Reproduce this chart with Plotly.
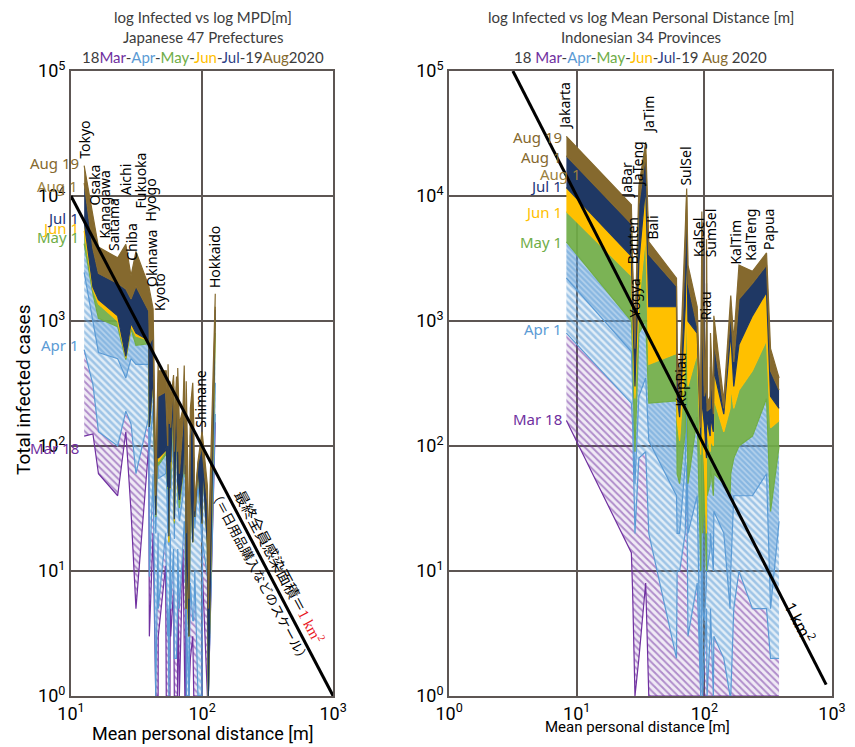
import numpy as np
import plotly.graph_objects as go

# ---------------- DATA ----------------
dates = ["Mar 18", "Apr 1", "Apr 15", "May 1", "Jun 1", "Jul 1", "Aug 1", "Aug 19"]

# Japan: 47 prefectures sorted by mean personal distance [m]
jp_names = ["Tokyo", "Osaka", "Kanagawa", "Saitama", "Aichi", "Chiba", "Fukuoka", "Hyogo", "Okinawa", "Kyoto",
            "Kagawa", "Ibaraki", "Shizuoka", "Nara", "Shiga", "Saga", "Hiroshima", "Nagasaki", "Miyagi", "Mie",
            "Gunma", "Tochigi", "Ishikawa", "Okayama", "Toyama", "Ehime", "Kumamoto", "Yamaguchi", "Wakayama", "Gifu",
            "Fukui", "Yamanashi", "Oita", "Niigata", "Tokushima", "Kagoshima", "Tottori", "Nagano", "Miyazaki",
            "Fukushima", "Aomori", "Yamagata", "Shimane", "Kochi", "Akita", "Iwate", "Hokkaido"]
jp_mpd = [12.6, 14.7, 16.2, 22.7, 26.2, 28.7, 31.3, 39.2, 39.6, 42.3,
          44.3, 46.2, 46.3, 52.7, 53.3, 54.7, 55.0, 55.8, 56.2, 56.9,
          57.2, 57.6, 60.6, 61.4, 63.8, 65.0, 65.2, 67.1, 71.5, 73.1,
          73.9, 74.2, 74.7, 75.2, 75.5, 75.7, 79.4, 81.4, 84.9,
          86.4, 88.0, 93.0, 99.8, 100.9, 109.8, 111.6, 126.1]
jp_mar18 = [120, 125, 60, 40, 130, 30, 5, 100, 3, 20,
            1, 1, 3, 11, 1, 1, 1, 1, 1, 1,
            6, 3, 7, 1, 1, 1, 7, 1, 15, 2,
            1, 2, 1, 20, 1, 1, 1, 2, 3,
            1, 1, 1, 1, 9, 1, 1, 155]
jp_apr01 = [590, 310, 130, 100, 190, 150, 60, 170, 9, 60,
            1, 20, 5, 20, 10, 3, 5, 1, 3, 10,
            20, 5, 15, 2, 2, 5, 15, 5, 20, 25,
            20, 8, 28, 30, 2, 1, 1, 8, 4,
            4, 10, 1, 1, 17, 9, 1, 180]
jp_apr15 = [2450, 950, 560, 500, 350, 500, 450, 450, 90, 200,
            20, 120, 55, 60, 70, 20, 140, 16, 60, 30,
            120, 40, 170, 18, 180, 40, 35, 25, 40, 140,
            90, 40, 50, 60, 3, 4, 1, 40, 17,
            50, 22, 50, 17, 60, 16, 1, 320]
jp_may01 = [4150, 1650, 1050, 900, 490, 860, 640, 660, 142, 330,
            27, 160, 70, 85, 90, 45, 160, 17, 88, 45,
            146, 54, 270, 24, 220, 48, 47, 32, 60, 150,
            122, 56, 60, 80, 5, 10, 3, 71, 17,
            75, 27, 69, 24, 74, 16, 1, 800]
jp_jun01 = [5250, 1780, 1370, 1000, 510, 910, 760, 700, 142, 360,
            28, 170, 75, 91, 100, 47, 168, 17, 88, 45,
            149, 65, 295, 25, 228, 82, 48, 37, 63, 151,
            122, 60, 60, 82, 5, 11, 3, 76, 17,
            81, 27, 69, 24, 74, 16, 1, 1060]
jp_jul01 = [6230, 1870, 1480, 1100, 520, 960, 800, 700, 142, 370,
            28, 180, 80, 92, 100, 47, 168, 19, 90, 46,
            150, 74, 300, 26, 228, 82, 50, 37, 63, 151,
            122, 60, 60, 84, 5, 30, 3, 77, 17,
            81, 27, 69, 24, 74, 16, 1, 1230]
jp_aug01 = [12700, 3800, 2400, 2000, 1800, 1500, 1900, 1200, 650, 750,
            40, 320, 250, 270, 200, 100, 300, 150, 150, 200,
            220, 140, 330, 90, 300, 90, 250, 60, 150, 300,
            180, 90, 70, 110, 20, 200, 6, 120, 180,
            90, 30, 72, 100, 85, 35, 5, 1300]
jp_aug19 = [17500, 7300, 3900, 3200, 4100, 2300, 3600, 1900, 1800, 1250,
            60, 450, 400, 400, 400, 200, 450, 200, 200, 330,
            300, 230, 370, 140, 360, 110, 420, 150, 200, 440,
            200, 150, 80, 130, 70, 330, 20, 200, 320,
            150, 35, 75, 130, 120, 48, 15, 1650]

# Indonesia: 34 provinces sorted by mean personal distance [m]
id_names = ["Jakarta", "JaBar", "Banten", "Yogya", "JaTeng", "JaTim", "Bali", "NTB", "KepRiau", "Lampung",
            "SumUt", "SulSel", "SulUt", "SumBar", "NTT", "KalSel", "Gorontalo", "Bengkulu", "Aceh", "SumSel",
            "Babel", "SulBar", "Riau", "Jambi", "SulTra", "SulTeng", "MalUt", "Maluku", "KalBar", "KalTim",
            "KalTeng", "Papua", "PapBar", "KalUt"]
id_mpd = [8.3, 26.8, 27.4, 28.6, 30.7, 34.7, 36.7, 60.5, 61.2, 64.0,
          70.8, 72.7, 74.4, 87.9, 93.7, 95.6, 96.9, 100.0, 103.9, 104.0,
          105.0, 111.0, 111.7, 117.6, 118.7, 142.0, 159.0, 161.0, 170.0, 186.8,
          238.0, 307.0, 330.0, 385.0]
id_mar18 = [160, 14, 7, 1, 2, 8, 1, 1, 1, 1,
            1, 1, 1, 1, 1, 1, 1, 1, 1, 1,
            1, 1, 1, 1, 1, 1, 1, 1, 1, 1,
            1, 1, 1, 1]
id_apr01 = [800, 220, 150, 20, 80, 90, 20, 2, 10, 10,
            20, 70, 3, 8, 1, 5, 1, 2, 5, 5,
            1, 3, 5, 1, 3, 2, 1, 1, 5, 10,
            5, 5, 2, 2]
id_apr15 = [2200, 570, 300, 50, 250, 350, 110, 40, 20, 20,
            70, 250, 20, 40, 1, 30, 5, 4, 8, 40,
            10, 15, 20, 10, 30, 20, 5, 10, 40, 40,
            40, 60, 5, 25]
id_may01 = [4300, 1000, 550, 90, 800, 1000, 220, 230, 60, 50,
            130, 550, 50, 170, 10, 130, 20, 40, 10, 100,
            40, 50, 70, 40, 60, 50, 40, 60, 80, 100,
            120, 240, 30, 100]
id_jun01 = [7500, 2300, 900, 240, 1400, 4900, 450, 550, 160, 110,
            500, 1600, 300, 550, 85, 800, 120, 70, 20, 700,
            130, 90, 110, 100, 240, 130, 200, 300, 200, 280,
            400, 700, 140, 160]
id_jul01 = [11700, 3300, 1400, 300, 3000, 12000, 1300, 1300, 250, 170,
            1300, 5200, 1000, 800, 110, 3100, 200, 150, 80, 2000,
            160, 120, 170, 130, 400, 180, 700, 800, 300, 650,
            1100, 1700, 250, 200]
id_aug01 = [21000, 6000, 2300, 600, 8500, 21500, 3400, 1900, 400, 250,
            3500, 10000, 2000, 900, 140, 6000, 900, 250, 300, 3400,
            190, 200, 430, 180, 700, 200, 1100, 1200, 470, 1500,
            2000, 2800, 400, 280]
id_aug19 = [30000, 8500, 2900, 800, 12000, 27000, 4300, 2200, 550, 350,
            5300, 11500, 2800, 1300, 180, 7500, 1200, 300, 900, 4500,
            220, 250, 800, 220, 1100, 230, 1400, 1600, 700, 2800,
            2500, 3500, 600, 350]

AREA_M2 = 1.0e6  # 1 km^2 final total infection area

# ---------------- STYLE ----------------
MAR, APR, MAY, JUN, JUL, AUG = "#7030A0", "#5B9BD5", "#70AD47", "#FFC000", "#1F3864", "#85692E"
line_colors = [MAR, APR, APR, MAY, JUN, JUL, AUG, AUG]
fill_colors = [None, "rgba(112,48,160,0.10)", "rgba(91,155,213,0.18)", "rgba(91,155,213,0.45)",
               "rgba(112,173,71,0.92)", JUN, JUL, AUG]
fill_patterns = [None,
                 dict(shape="\\", fgcolor=MAR, bgcolor="rgba(112,48,160,0.10)", size=5, solidity=0.4),
                 dict(shape="\\", fgcolor=APR, bgcolor="rgba(91,155,213,0.18)", size=5, solidity=0.5),
                 dict(shape="\\", fgcolor=APR, bgcolor="rgba(91,155,213,0.45)", size=4, solidity=0.6),
                 None, None, None, None]
GRID = "#5d5653"
FONT = "Noto Sans"

jp_series = [jp_mar18, jp_apr01, jp_apr15, jp_may01, jp_jun01, jp_jul01, jp_aug01, jp_aug19]
id_series = [id_mar18, id_apr01, id_apr15, id_may01, id_jun01, id_jul01, id_aug01, id_aug19]

fig = go.Figure()


def add_panel(mpd, series, xa, ya):
    for d, vals in enumerate(series):
        kw = {}
        if d > 0:
            kw["fill"] = "tonexty"
            kw["fillcolor"] = fill_colors[d]
            if fill_patterns[d] is not None:
                kw["fillpattern"] = fill_patterns[d]
        fig.add_trace(go.Scatter(
            x=mpd, y=vals, mode="lines", xaxis=xa, yaxis=ya,
            line=dict(color=line_colors[d], width=1.2),
            hoverinfo="skip", showlegend=False, **kw))


add_panel(jp_mpd, jp_series, "x", "y")
add_panel(id_mpd, id_series, "x2", "y2")

# 1 km^2 reference lines
ref_left_x = np.array([10.0, 1000.0])
ref_right_x = np.array([np.sqrt(AREA_M2 / 1e5), 900.0])
fig.add_trace(go.Scatter(x=ref_left_x, y=AREA_M2 / ref_left_x ** 2, mode="lines",
                         line=dict(color="black", width=3), xaxis="x", yaxis="y",
                         hoverinfo="skip", showlegend=False))
fig.add_trace(go.Scatter(x=ref_right_x, y=AREA_M2 / ref_right_x ** 2, mode="lines",
                         line=dict(color="black", width=3), xaxis="x2", yaxis="y2",
                         hoverinfo="skip", showlegend=False))

annotations = []

# region labels (name, dx px, dy px)
jp_labels = [("Tokyo", 0, 5), ("Osaka", 2, 6), ("Kanagawa", 6, 7), ("Saitama", -4, 5), ("Aichi", 0, 47),
             ("Chiba", 1, 13), ("Fukuoka", 4, 41), ("Hyogo", 2, 63), ("Okinawa", 2, 0), ("Kyoto", 7, -4),
             ("Hokkaido", 0, 4), ("Shimane", -1, 2)]
id_labels = [("Jakarta", -2, 5), ("JaBar", -5, 4), ("Banten", 0, -3), ("Yogya", 0, 14), ("JaTeng", -2, -3),
             ("JaTim", 2, 6), ("Bali", 4, 0), ("KepRiau", 3, -55), ("SulSel", -1, 1), ("KalSel", -4, -47),
             ("SumSel", 4, -20), ("Riau", -5, 11), ("KalTim", -3, -1), ("KalTeng", -2, 9), ("Papua", 2, 1)]


def add_region_labels(labels, names, mpd, top, xr, yr):
    for name, dx, dy in labels:
        i = names.index(name)
        annotations.append(dict(
            x=np.log10(mpd[i]), y=np.log10(top[i]), xref=xr, yref=yr, text=name, showarrow=False,
            textangle=-90, xanchor="center", yanchor="bottom", xshift=dx, yshift=dy,
            font=dict(family=FONT, size=14, color="black")))


add_region_labels(jp_labels, jp_names, jp_mpd, jp_aug19, "x", "y")
add_region_labels(id_labels, id_names, id_mpd, id_aug19, "x2", "y2")

# date labels (text, date index, color, dx, dy)
jp_date_labels = [("Aug 19", 7, AUG, -3, 3), ("Aug 1", 6, "#9a7f3e", -4, -3), ("Jun 1", 4, JUN, -3, 3),
                  ("Jul 1", 5, "#22357a", -3, 4), ("May 1", 3, MAY, -3, 7), ("Apr 1", 1, APR, -3, 5),
                  ("Mar 18", 0, MAR, -3, -12)]
id_date_labels = [("Aug 19", 7, AUG, -2, -1), ("Aug 1", 6, AUG, -2, -1), ("Aug 1", 6, "#9a7f3e", 17, -18),
                  ("Jul 1", 5, "#22357a", -2, 1), ("Jun 1", 4, JUN, -2, 0), ("May 1", 3, MAY, -2, 0),
                  ("Apr 1", 1, APR, -2, 4), ("Mar 18", 0, MAR, -2, 1)]


def add_date_labels(labels, mpd, series, xr, yr):
    for text, d, col, dx, dy in labels:
        annotations.append(dict(
            x=np.log10(mpd[0]), y=np.log10(series[d][0]), xref=xr, yref=yr, text=text, showarrow=False,
            xanchor="right", yanchor="middle", xshift=dx, yshift=dy,
            font=dict(family=FONT, size=15, color=col)))


add_date_labels(jp_date_labels, jp_mpd, jp_series, "x", "y")
add_date_labels(id_date_labels, id_mpd, id_series, "x2", "y2")


def P(px, py):
    return (px - 71) / 775.0, (696 - py) / 625.0


TITLE_C = "#3c3c3c"
tfont = dict(family="Lato", size=15, color=TITLE_C)


def span(t, c):
    return '<span style="color:%s">%s</span>' % (c, t)


dash = "-"
left_t3 = ("18" + span("Mar", MAR) + dash + span("Apr", APR) + dash + span("May", MAY) + dash +
           span("Jun", JUN) + dash + span("Jul", "#2f3f86") + "-19" + span("Aug", AUG) + "2020")
right_t3 = ("18 " + span("Mar", MAR) + dash + span("Apr", APR) + dash + span("May", MAY) + dash +
            span("Jun", JUN) + dash + span("Jul", "#2f3f86") + "-19 " + span("Aug", AUG) + " 2020")

for px, lines in [(205, ["log Infected vs log MPD[m]", "Japanese 47 Prefectures", left_t3]),
                  (651, ["log Infected vs log Mean Personal Distance [m]", "Indonesian 34 Provinces", right_t3])]:
    for k, (py, t) in enumerate(zip([17, 37, 57], lines)):
        x, y = P(px, py)
        annotations.append(dict(x=x, y=y, xref="paper", yref="paper", text=t, showarrow=False,
                                xanchor="center", yanchor="middle", font=tfont))

# axis titles
x, y = P(205, 733)
annotations.append(dict(x=x, y=y, xref="paper", yref="paper", text="Mean personal distance [m]",
                        showarrow=False, xanchor="center", yanchor="middle",
                        font=dict(family="Roboto", size=18, color="black")))
x, y = P(648, 727)
annotations.append(dict(x=x, y=y, xref="paper", yref="paper", text="Mean personal distance [m]",
                        showarrow=False, xanchor="center", yanchor="middle",
                        font=dict(family="Roboto", size=15, color="black")))
x, y = P(22, 390)
annotations.append(dict(x=x, y=y, xref="paper", yref="paper", text="Total infected cases", textangle=-90,
                        showarrow=False, xanchor="center", yanchor="middle",
                        font=dict(family="Roboto", size=19, color="black")))

# line annotations
x, y = P(284, 566)
annotations.append(dict(x=x, y=y, xref="paper", yref="paper", textangle=61.9, showarrow=False,
                        xanchor="center", yanchor="middle",
                        text='最終全員感染面積＝<span style="color:#e8141b;font-family:Liberation Serif">1 km<sup>2</sup></span>',
                        font=dict(family="Noto Sans CJK JP", size=15, color="black")))
x, y = P(264, 576)
annotations.append(dict(x=x, y=y, xref="paper", yref="paper", textangle=61.9, showarrow=False,
                        xanchor="center", yanchor="middle",
                        text="（＝日用品購入などのスケール）",
                        font=dict(family="Noto Sans CJK JP", size=13, color="black")))
x, y = P(813, 622)
annotations.append(dict(x=x, y=y, xref="paper", yref="paper", textangle=62.5, showarrow=False,
                        xanchor="center", yanchor="middle",
                        text="1 km<sup>2</sup>", font=dict(family=FONT, size=16, color="black")))

sup = lambda n: "10<sup>%d</sup>" % n
axis_common = dict(type="log", showgrid=True, gridcolor=GRID, gridwidth=2, showline=True, linecolor=GRID,
                   linewidth=2, mirror=True, ticks="", zeroline=False,
                   tickfont=dict(family="Roboto", size=18, color="black"))

fig.update_layout(
    width=855, height=747,
    margin=dict(l=71, r=9, t=71, b=51),
    paper_bgcolor="white", plot_bgcolor="white", showlegend=False,
    xaxis=dict(axis_common, range=[1, 3], domain=[0, 0.3445], anchor="y",
               tickvals=[10, 100, 1000], ticktext=[sup(1), sup(2), sup(3)]),
    yaxis=dict(axis_common, range=[0, 5], domain=[0, 1], anchor="x",
               tickvals=[1, 10, 100, 1000, 1e4, 1e5], ticktext=[sup(k) for k in range(6)]),
    xaxis2=dict(axis_common, range=[0, 3], domain=[0.4968, 1], anchor="y2",
                tickvals=[1, 10, 100, 1000], ticktext=[sup(k) for k in range(4)]),
    yaxis2=dict(axis_common, range=[0, 5], domain=[0, 1], anchor="x2",
                tickvals=[1, 10, 100, 1000, 1e4, 1e5], ticktext=[sup(k) for k in range(6)]),
    annotations=annotations,
)

fig.write_html("out.html", config={"displayModeBar": False},
               post_script="document.body.style.margin='0px';document.body.style.overflow='hidden';")
